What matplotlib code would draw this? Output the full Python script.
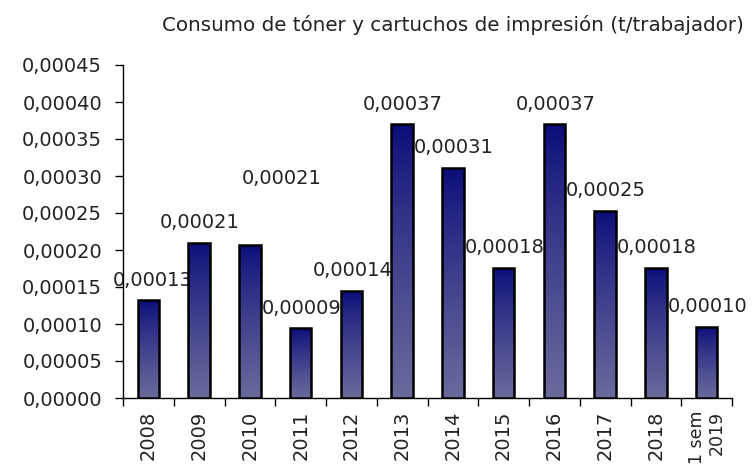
import numpy as np
from matplotlib import pyplot as plt
from matplotlib.ticker import FuncFormatter, MultipleLocator

# Data
years = ['2008', '2009', '2010', '2011', '2012', '2013', '2014',
         '2015', '2016', '2017', '2018', '1 sem\n2019']
consumo = [0.000133, 0.000210, 0.000207, 0.000094, 0.000145, 0.000370,
           0.000311, 0.000176, 0.000370, 0.000253, 0.000176, 0.000096]
etiquetas = ['0,00013', '0,00021', '0,00021', '0,00009', '0,00014', '0,00037',
             '0,00031', '0,00018', '0,00037', '0,00025', '0,00018', '0,00010']

TITLE = 'Consumo de tóner y cartuchos de impresión (t/trabajador)'
TXT = '#222222'
TOP_COLOR = np.array([10, 10, 122]) / 255
BOTTOM_COLOR = np.array([106, 106, 156]) / 255

plt.rcParams['font.family'] = 'DejaVu Sans'

fig = plt.figure(figsize=(7.55, 4.68), dpi=100)
ax = fig.add_axes([123 / 755, 1 - 398 / 468, (732 - 123) / 755, (398 - 65) / 468])

x = np.arange(len(years))
bars = ax.bar(x, consumo, width=0.42, facecolor='none', edgecolor='black',
              linewidth=1.8, zorder=4)

# vertical gradient inside every bar (dark on top, lighter at the bottom)
t = np.linspace(0, 1, 256)[:, None] ** 0.8
grad = (TOP_COLOR * (1 - t) + BOTTOM_COLOR * t)[:, None, :]
for b in bars:
    x0, w, h = b.get_x(), b.get_width(), b.get_height()
    im = ax.imshow(grad, extent=(x0, x0 + w, 0, h), aspect='auto',
                   origin='upper', zorder=3)
    im.set_clip_path(b)

# value labels (sit behind the bars, as in the original)
for i, (v, lab) in enumerate(zip(consumo, etiquetas)):
    dx, dy = 1, 20
    if i == 0:
        dx, dy = 4, 19
    elif i == 2:
        dx, dy = 32, 66
    ax.annotate(lab, xy=(i, v), xytext=(dx, dy), textcoords='offset pixels',
                ha='center', va='center', fontsize=14, color=TXT, zorder=2)

ax.set_xlim(-0.5, len(years) - 0.5)
ax.set_ylim(0, 0.00045)
ax.yaxis.set_major_locator(MultipleLocator(0.00005))
ax.yaxis.set_major_formatter(FuncFormatter(lambda v, p: f'{v:.5f}'.replace('.', ',')))

ax.set_xticks(x)
ax.set_xticklabels(years, rotation=90, va='top', ha='center',
                   multialignment='right', linespacing=1.1)
ax.set_xticks(np.arange(-0.5, len(years)), minor=True)
ax.tick_params(axis='x', which='major', length=0, pad=9, labelsize=14, labelcolor=TXT)
ax.tick_params(axis='x', which='minor', length=6, width=1, direction='out')
ax.tick_params(axis='y', length=6, width=1, direction='out', pad=9,
               labelsize=14, labelcolor=TXT)
# the two-line last label is a bit smaller so it stays inside the figure
ax.get_xticklabels()[-1].set_fontsize(12.5)

for side in ['top', 'right']:
    ax.spines[side].set_visible(False)
for side in ['left', 'bottom']:
    ax.spines[side].set_linewidth(1)

fig.text(453 / 755, 1 - 25 / 468, TITLE, ha='center', va='center',
         fontsize=14.3, color=TXT)

fig.savefig('out.png', dpi=100)
